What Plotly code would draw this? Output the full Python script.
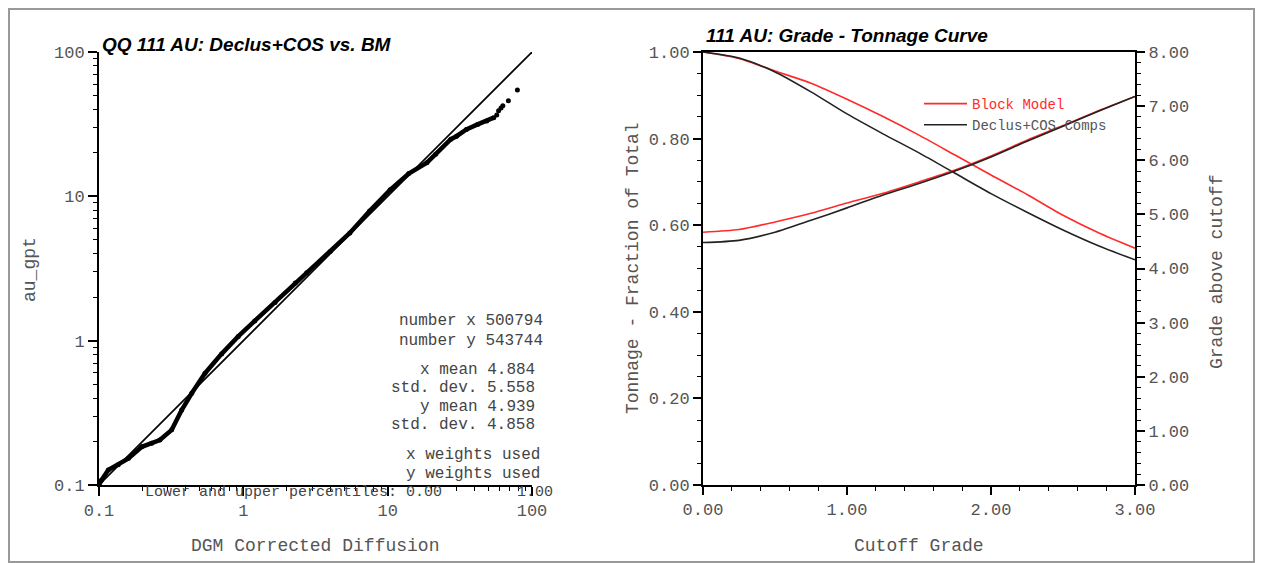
import plotly.graph_objects as go

W, H = 1263, 563
OFF = 8  # page body margin of the browser
def px(x): return (x - OFF) / W
def py(y): return 1 - (y - OFF) / H

# ---------------- QQ plot data ----------------
qq_x = [0.100, 0.104, 0.116, 0.136, 0.160, 0.198, 0.232, 0.264, 0.319, 0.374, 0.439, 0.543,
        0.707, 0.922, 1.20, 1.66, 2.29, 2.75, 4.0, 5.47, 7.5, 10.4, 14.0, 18.7, 21.5,
        27.4, 30.0, 35.1, 42.0, 48.6, 54.3]
qq_y = [0.100, 0.108, 0.127, 0.138, 0.153, 0.184, 0.195, 0.205, 0.241, 0.331, 0.432, 0.595,
        0.810, 1.07, 1.37, 1.84, 2.51, 2.95, 4.15, 5.57, 7.9, 11.1, 14.4, 17.1, 19.6,
        24.9, 26.1, 29.1, 31.5, 33.3, 35.1]
qq_tail_x = [57.0, 58.7, 61.0, 62.8, 68.6, 79.2]
qq_tail_y = [36.6, 39.2, 41.0, 42.5, 45.9, 54.6]
ref_line = [0.1, 100]

qq_xticks = [0.1, 1, 10, 100]
qq_xlabels = ["0.1", "1", "10", "100"]
qq_minor = [m * d for d in (0.1, 1, 10) for m in range(2, 10)]

stats_lines = ["number x 500794", "number y 543744", "x mean 4.884", "std. dev. 5.558",
               "y mean 4.939", "std. dev. 4.858", "x weights used", "y weights used"]

# ---------------- Grade-tonnage data ----------------
cutoff = [0.0, 0.25, 0.5, 0.75, 1.0, 1.25, 1.5, 1.75, 2.0, 2.25, 2.5, 2.75, 3.0]
bm_tonnage = [1.000, 0.985, 0.956, 0.928, 0.891, 0.851, 0.808, 0.762, 0.716, 0.671, 0.623, 0.582, 0.547]
dc_tonnage = [1.000, 0.986, 0.954, 0.908, 0.857, 0.811, 0.767, 0.720, 0.673, 0.630, 0.589, 0.552, 0.520]
bm_grade = [4.67, 4.72, 4.86, 5.02, 5.21, 5.39, 5.60, 5.82, 6.08, 6.37, 6.64, 6.92, 7.18]
dc_grade = [4.48, 4.52, 4.67, 4.89, 5.12, 5.36, 5.57, 5.80, 6.06, 6.35, 6.63, 6.91, 7.18]

RED = "#ff2a2a"
BLK = "#222222"
MONO = "Liberation Mono, Courier New, monospace"
SANS = "Liberation Sans, Arial, sans-serif"
GRAY = "#555555"

fig = go.Figure()

# QQ traces
fig.add_trace(go.Scatter(x=ref_line, y=ref_line, mode="lines", line=dict(color="black", width=1.6),
                         xaxis="x", yaxis="y", showlegend=False))
fig.add_trace(go.Scatter(x=qq_x, y=qq_y, mode="lines+markers", line=dict(color="black", width=4.5),
                         marker=dict(color="black", size=5), xaxis="x", yaxis="y", showlegend=False))
fig.add_trace(go.Scatter(x=qq_tail_x, y=qq_tail_y, mode="markers",
                         marker=dict(color="black", size=5), xaxis="x", yaxis="y", showlegend=False))

# Grade-tonnage traces
spl = dict(width=1.6, shape="spline", smoothing=0.7)
fig.add_trace(go.Scatter(x=cutoff, y=bm_tonnage, mode="lines", line=dict(color=RED, **spl),
                         xaxis="x2", yaxis="y2", name="<span style='color:#ff2a2a'>Block Model</span>"))
fig.add_trace(go.Scatter(x=cutoff, y=dc_tonnage, mode="lines", line=dict(color=BLK, **spl),
                         xaxis="x2", yaxis="y2", name="Declus+COS Comps"))
fig.add_trace(go.Scatter(x=cutoff, y=bm_grade, mode="lines", line=dict(color=RED, **spl),
                         xaxis="x2", yaxis="y3", showlegend=False))
fig.add_trace(go.Scatter(x=cutoff, y=dc_grade, mode="lines", line=dict(color=BLK, **spl),
                         xaxis="x2", yaxis="y3", showlegend=False))

tickfont = dict(family=MONO, size=17, color=GRAY)
ydom = [py(485), py(52)]
common = dict(ticks="outside", tickwidth=1.5, tickcolor="black", showline=True, linewidth=2,
              linecolor="black", showgrid=False, zeroline=False, tickfont=tickfont, automargin=False)
minor_common = dict(ticks="outside", ticklen=4, tickwidth=1.2, tickcolor="black", showgrid=False)

fig.update_layout(
    template="none",
    width=W, height=H, autosize=False,
    margin=dict(l=0, r=0, t=0, b=0, pad=0),
    paper_bgcolor="white", plot_bgcolor="white",
    xaxis=dict(domain=[px(99), px(532)], type="log", range=[-1, 2], tickvals=qq_xticks, ticktext=qq_xlabels,
               ticklen=9, anchor="y", minor=dict(tickvals=qq_minor, **minor_common), **common),
    yaxis=dict(domain=ydom, type="log", range=[-1, 2], tickvals=qq_xticks, ticktext=qq_xlabels,
               ticklen=9, anchor="x", minor=dict(tickvals=qq_minor, **minor_common), **common),
    xaxis2=dict(domain=[px(703), px(1135)], range=[0, 3], dtick=1, tick0=0, tickformat=".2f",
                ticklen=8, mirror=True, anchor="y2", minor=dict(dtick=0.2, tick0=0, **minor_common), **common),
    yaxis2=dict(domain=ydom, range=[0, 1], dtick=0.2, tick0=0, tickformat=".2f",
                ticklen=8, anchor="x2", minor=dict(dtick=0.05, tick0=0, **minor_common), **common),
    yaxis3=dict(domain=ydom, range=[0, 8], dtick=1, tick0=0, tickformat=".2f", overlaying="y2", side="right",
                ticklen=8, anchor="x2", minor=dict(dtick=0.2, tick0=0, **minor_common), **common),
    legend=dict(x=px(919), y=py(88), xanchor="left", yanchor="top", bgcolor="rgba(0,0,0,0)",
                borderwidth=0, font=dict(family=MONO, size=14, color=GRAY), tracegroupgap=0, itemwidth=43),
    showlegend=True,
)

ann = []
# titles
ann.append(dict(text="<b><i>QQ 111 AU: Declus+COS vs. BM</i></b>", x=px(100), y=py(44), xanchor="left", yanchor="middle",
                font=dict(family=SANS, size=19, color="black")))
ann.append(dict(text="<b><i>111 AU: Grade - Tonnage Curve</i></b>", x=px(704), y=py(35), xanchor="left", yanchor="middle",
                font=dict(family=SANS, size=19, color="black")))
# axis titles
ann.append(dict(text="DGM Corrected Diffusion", x=px(315), y=py(546), xanchor="center", yanchor="middle",
                font=dict(family=MONO, size=18, color=GRAY)))
ann.append(dict(text="au_gpt", x=px(30), y=py(270), xanchor="center", yanchor="middle", textangle=-90,
                font=dict(family=MONO, size=18, color=GRAY)))
ann.append(dict(text="Cutoff Grade", x=px(919), y=py(546), xanchor="center", yanchor="middle",
                font=dict(family=MONO, size=18, color=GRAY)))
ann.append(dict(text="Tonnage - Fraction of Total", x=px(633), y=py(268), xanchor="center", yanchor="middle", textangle=-90,
                font=dict(family=MONO, size=18, color=GRAY)))
ann.append(dict(text="Grade above cutoff", x=px(1217), y=py(272), xanchor="center", yanchor="middle", textangle=-90,
                font=dict(family=MONO, size=18, color=GRAY)))
# stats text
stat_pos = [(545, 321), (545, 341), (537, 370), (537, 388), (537, 407), (537, 425), (542, 455), (542, 474)]
for t, (xx, yy) in zip(stats_lines, stat_pos):
    ann.append(dict(text=t, x=px(xx), y=py(yy), xanchor="right", yanchor="middle",
                    font=dict(family=MONO, size=16, color="#444444")))
ann.append(dict(text="Lower and upper percentiles: 0.00", x=px(143), y=py(492), xanchor="left", yanchor="middle",
                font=dict(family=MONO, size=15, color="#444444")))
ann.append(dict(text="1.00", x=px(555), y=py(492), xanchor="right", yanchor="middle",
                font=dict(family=MONO, size=15, color="#444444")))
for a in ann:
    a.update(xref="paper", yref="paper", showarrow=False)
fig.update_layout(annotations=ann)

fig.add_shape(type="rect", xref="paper", yref="paper", x0=1 / W, x1=px(1254), y0=py(562), y1=1 - 1 / H,
              line=dict(color="#999999", width=2), fillcolor="rgba(0,0,0,0)", layer="below")

fig.write_html("out.html")
